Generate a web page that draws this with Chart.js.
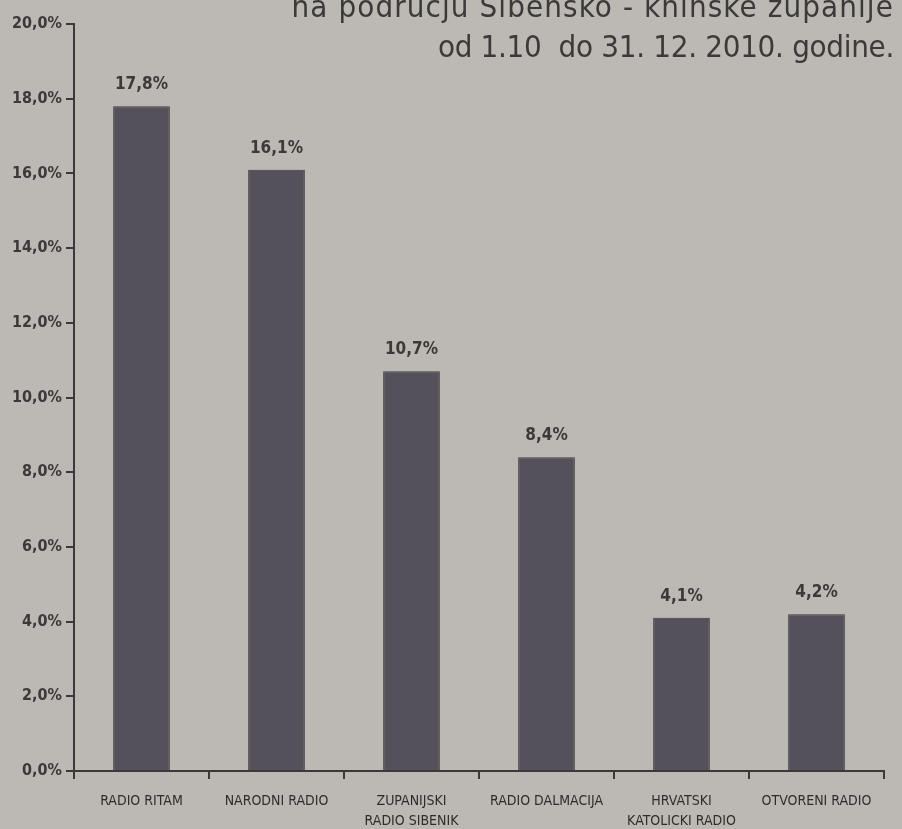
<!DOCTYPE html>
<html>
<head>
<meta charset="utf-8">
<script src="https://cdn.jsdelivr.net/npm/chart.js@4/dist/chart.umd.min.js"></script>
<style>
  html, body { margin: 0; padding: 0; background: #bcb8b3; }
  #wrap { position: relative; width: 902px; height: 829px; overflow: hidden; }
  #title {
    position: absolute; right: 8px; top: -14px; text-align: right;
    font-family: "Liberation Sans Narrow", "DejaVu Sans Condensed", sans-serif;
    font-size: 31px; line-height: 40px; color: #3b393a; letter-spacing: -0.3px;
  }
  #title .l1 { letter-spacing: 1.1px; }
</style>
</head>
<body>
<div id="wrap">
  <canvas id="chart" width="902" height="829"></canvas>
  <div id="title"><span class="l1">na području Šibensko - kninske županije</span><br>od 1.10&nbsp; do 31. 12. 2010. godine.</div>
</div>
<script>
const categories = [
  'RADIO RITAM',
  'NARODNI RADIO',
  ['ZUPANIJSKI', 'RADIO SIBENIK'],
  'RADIO DALMACIJA',
  ['HRVATSKI', 'KATOLICKI RADIO'],
  'OTVORENI RADIO'
];
const shares = [17.8, 16.1, 10.7, 8.4, 4.1, 4.2];
const yTicks = [0, 2, 4, 6, 8, 10, 12, 14, 16, 18, 20];

const fmt = v => v.toFixed(1).replace('.', ',') + '%';
const ink = '#3b393a';
const narrow = '"Liberation Sans Narrow", "DejaVu Sans Condensed", sans-serif';

const valueLabels = {
  id: 'valueLabels',
  afterDatasetsDraw(chart) {
    const ctx = chart.ctx;
    const meta = chart.getDatasetMeta(0);
    ctx.save();
    ctx.fillStyle = ink;
    ctx.font = 'bold 17px ' + narrow;
    ctx.textAlign = 'center';
    ctx.textBaseline = 'bottom';
    meta.data.forEach((bar, i) => {
      ctx.fillText(fmt(shares[i]), bar.x, bar.y - 13);
    });
    ctx.restore();
  }
};

new Chart(document.getElementById('chart').getContext('2d'), {
  type: 'bar',
  data: {
    labels: categories,
    datasets: [{
      data: shares,
      backgroundColor: '#55515b',
      borderColor: '#3e3b41',
      borderWidth: 1,
      categoryPercentage: 0.42,
      barPercentage: 1
    }]
  },
  options: {
    responsive: false,
    animation: false,
    layout: { padding: { top: 24, right: 18, left: 0, bottom: 0 } },
    plugins: { legend: { display: false }, tooltip: { enabled: false } },
    scales: {
      x: {
        grid: { offset: true, drawOnChartArea: false, tickLength: 8, color: ink, lineWidth: 2 },
        border: { color: ink, width: 2 },
        ticks: {
          color: '#2e2d2e', padding: 12,
          font: { family: narrow, size: 14, lineHeight: 1.45 },
          maxRotation: 0, autoSkip: false
        },
        afterFit(scale) { scale.height = 58; }
      },
      y: {
        min: 0, max: 20,
        afterBuildTicks(scale) { scale.ticks = yTicks.map(v => ({ value: v })); },
        grid: { drawOnChartArea: false, tickLength: 8, color: ink, lineWidth: 2 },
        border: { color: ink, width: 2 },
        ticks: {
          color: ink, padding: 4,
          font: { family: narrow, size: 16, weight: 'bold' },
          callback: v => fmt(v)
        },
        afterFit(scale) { scale.width = 74; }
      }
    }
  },
  plugins: [valueLabels]
});
</script>
</body>
</html>
